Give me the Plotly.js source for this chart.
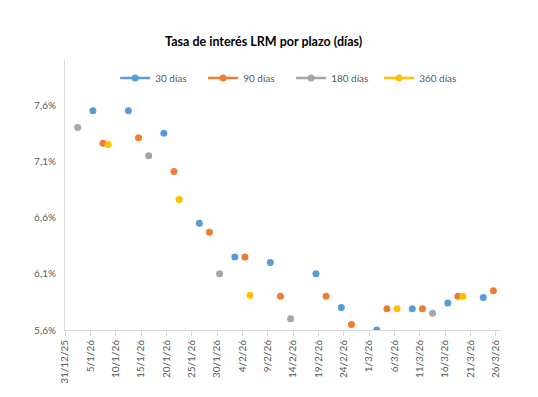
<!DOCTYPE html>
<html>
<head>
<meta charset="utf-8">
<script src="https://cdn.plot.ly/plotly-3.0.1.min.js"></script>
<style>html,body{margin:0;padding:0;background:#fff;}#chart{width:538px;height:397px;}</style>
</head>
<body>
<div id="chart"></div>
<script>
// Data (rates in %)
const d30  = ['2026-01-05','2026-01-12','2026-01-19','2026-01-26','2026-02-02','2026-02-09','2026-02-18','2026-02-23','2026-03-02','2026-03-09','2026-03-16','2026-03-23'];
const v30  = [7.55, 7.55, 7.35, 6.55, 6.25, 6.20, 6.10, 5.80, 5.60, 5.79, 5.84, 5.89];
const d90  = ['2026-01-07','2026-01-14','2026-01-21','2026-01-28','2026-02-04','2026-02-11','2026-02-20','2026-02-25','2026-03-04','2026-03-11','2026-03-18','2026-03-25'];
const v90  = [7.26, 7.31, 7.01, 6.47, 6.25, 5.90, 5.90, 5.65, 5.79, 5.79, 5.90, 5.95];
const d180 = ['2026-01-02','2026-01-16','2026-01-30','2026-02-13','2026-03-13'];
const v180 = [7.40, 7.15, 6.10, 5.70, 5.75];
const d360 = ['2026-01-08','2026-01-22','2026-02-05','2026-03-06','2026-03-19'];
const v360 = [7.25, 6.76, 5.91, 5.79, 5.90];
const tickDates  = ['2025-12-31','2026-01-05','2026-01-10','2026-01-15','2026-01-20','2026-01-25','2026-01-30','2026-02-04','2026-02-09','2026-02-14','2026-02-19','2026-02-24','2026-03-01','2026-03-06','2026-03-11','2026-03-16','2026-03-21','2026-03-26'];
const tickLabels = ['31/12/25','5/1/26','10/1/26','15/1/26','20/1/26','25/1/26','30/1/26','4/2/26','9/2/26','14/2/26','19/2/26','24/2/26','1/3/26','6/3/26','11/3/26','16/3/26','21/3/26','26/3/26'];
const names  = ['30 días','90 días','180 días','360 días'];
const colors = ['#5B9BD5','#ED7D31','#A5A5A5','#FFC000'];

// Excel date axis "between tick marks": each day's bin starts at its tick
function shiftHalfDay(s){ const t = new Date(s+'T00:00:00Z').getTime() - 12*3600*1000; return new Date(t).toISOString().slice(0,19).replace('T',' '); }
const tickVals = tickDates.map(shiftHalfDay);

const series = [[d30,v30],[d90,v90],[d180,v180],[d360,v360]];
const traces = [];
series.forEach((s,i)=>{
  traces.push({
    x: s[0], y: s[1], name: names[i], type:'scatter', mode:'markers', legendgroup:'g'+i, showlegend:false,
    marker:{color:colors[i], size:7}
  });
});
// legend entries (line + marker look, as in the Excel legend)
series.forEach((s,i)=>{
  traces.push({
    x:[null], y:[null], name:names[i], type:'scatter', mode:'lines+markers', legendgroup:'g'+i, showlegend:true,
    marker:{color:colors[i], size:7}, line:{color:colors[i], width:2.5}
  });
});

const font = {family:'Lato, "Open Sans", sans-serif', color:'#595959', size:10};
const layout = {
  width:538, height:397,
  margin:{l:65, r:37, t:59, b:67},
  paper_bgcolor:'#fff', plot_bgcolor:'#fff',
  font: font,
  separators: ',.',
  title:{text:'<b>Tasa de interés LRM por plazo (días)</b>', font:{family:'Lato, sans-serif', size:12.5, color:'#000'}, x:0.49, xref:'container', y:0.895, yref:'container', yanchor:'middle'},
  showlegend:true,
  legend:{orientation:'h', x:0.115, xanchor:'left', y:0.93, yanchor:'middle', entrywidth:43, entrywidthmode:'pixels', font:{size:10, color:'#595959'}, bgcolor:'rgba(0,0,0,0)', itemwidth:30, traceorder:'normal'},
  xaxis:{type:'date', range:[shiftHalfDay('2025-12-31'), shiftHalfDay('2026-03-27')], tickmode:'array', tickvals:tickVals, ticktext:tickLabels, tickangle:-90,
         showline:true, linecolor:'#D9D9D9', linewidth:1, ticks:'outside', ticklen:5, tickcolor:'#D9D9D9', showgrid:false, zeroline:false, tickfont:{size:10,color:'#595959'}, fixedrange:true},
  yaxis:{range:[5.6, 8.01], tickmode:'linear', tick0:5.6, dtick:0.5, tickformat:'.1f', ticksuffix:'%', showline:true, linecolor:'#D9D9D9', linewidth:1, ticks:'', showgrid:false, zeroline:false, ticklabelstandoff:6, tickfont:{size:10,color:'#595959'}, fixedrange:true}
};
Plotly.newPlot('chart', traces, layout, {staticPlot:true, displayModeBar:false});
</script>
</body>
</html>
